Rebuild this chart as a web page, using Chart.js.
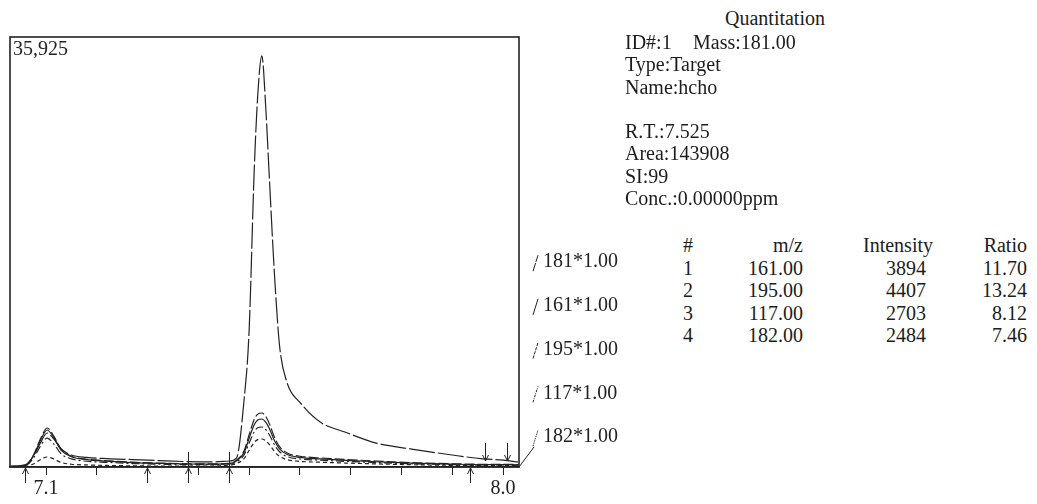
<!DOCTYPE html>
<html>
<head>
<meta charset="utf-8">
<title>Quantitation - hcho</title>
<script src="https://cdn.jsdelivr.net/npm/chart.js@4.4.1/dist/chart.umd.min.js"></script>
<style>
    html, body {margin: 0; padding: 0; background: #fff;}
    #page {position: relative; width: 1037px; height: 504px; overflow: hidden;
        font-family: 'Liberation Serif', 'Times New Roman', serif; color: #1c1c1c;}
    #chartBox {position: absolute; left: 0; top: 0; width: 640px; height: 504px;}
    .txt {position: absolute; font-size: 20px; line-height: 22.3px; white-space: pre;}
    .col {position: absolute; font-size: 20px; line-height: 22.5px; white-space: pre;}
</style>
</head>
<body>
<div id="page">
    <div id="chartBox"><canvas id="appChart" width="640" height="504"></canvas></div>
    <div class="txt" style="left:725px; top:7px;">Quantitation</div>
    <div class="txt" id="info" style="left:625px; top:31px;"></div>
    <div class="col" id="colNo" style="left:683px; top:234px;"></div>
    <div class="col" id="colMz" style="right:234px; top:234px; text-align:right;"></div>
    <div class="col" id="colInt" style="right:104px; top:234px; text-align:right;"></div>
    <div class="col" id="colRatio" style="right:10px; top:234px; text-align:right;"></div>
</div>
<script>
// MODULE'S VARS
const INK = '#222';
const FONT = '"Liberation Serif", "Times New Roman", serif';

// retention time axis, min
const X_MIN = 7.029;
const X_MAX = 8.0315;
const Y_MAX = 35925;
const LABELED_TICKS = [7.1, 8.0];

// sampled retention times, min
const times = [7.03, 7.06, 7.075, 7.09, 7.102, 7.115, 7.13, 7.15, 7.18, 7.22, 7.27, 7.32,
    7.38, 7.43, 7.46, 7.475, 7.49, 7.50, 7.51, 7.517, 7.525, 7.533, 7.54, 7.55, 7.56,
    7.575, 7.60, 7.64, 7.69, 7.75, 7.82, 7.90, 7.96, 8.0, 8.03];

// ion traces (intensity)
const ion181 = [80, 200, 900, 2100, 2840, 2350, 1500, 1000, 800, 700, 620, 540,
    450, 420, 500, 750, 5600, 11450, 24800, 31100, 34340, 29800, 24000, 16000, 10100,
    7000, 5400, 3750, 2900, 2000, 1500, 1000, 680, 580, 420];
const ion161 = [0, 150, 930, 2320, 3090, 2470, 1390, 860, 620, 490, 370, 310,
    250, 240, 280, 500, 1200, 2400, 3530, 3930, 4010, 3730, 3200, 2200, 1520,
    1040, 800, 680, 560, 440, 320, 240, 200, 200, 170];
const ion195 = [0, 160, 980, 2440, 3260, 2600, 1470, 900, 650, 520, 400, 330,
    270, 260, 300, 560, 1350, 2700, 3970, 4420, 4510, 4200, 3600, 2480, 1700,
    1170, 900, 760, 630, 500, 360, 270, 230, 230, 200];
const ion117 = [0, 120, 730, 1820, 2420, 1940, 1090, 680, 480, 390, 290, 240,
    200, 200, 230, 420, 1000, 2000, 2940, 3280, 3340, 3110, 2670, 1840, 1270,
    870, 670, 570, 470, 370, 270, 200, 170, 170, 140];
const ion182 = [0, 40, 250, 630, 835, 670, 380, 230, 170, 130, 100, 80,
    70, 70, 160, 290, 700, 1400, 2060, 2290, 2340, 2180, 1870, 1290, 890,
    610, 470, 400, 330, 260, 190, 140, 120, 120, 100];

const ionNames = ['181', '161', '195', '117', '182'];
const ionFactors = ['1.00', '1.00', '1.00', '1.00', '1.00'];
const ionSeries = [ion181, ion161, ion195, ion117, ion182];
const ionDashes = [[26, 3], [], [10, 3], [8, 3, 2, 3], [4, 3]];

// integration marks, min
const marksUp = [7.0586, 7.2989, 7.935];
const marksCross = [7.3796, 7.4604];
const marksDown = [7.9645, 8.0078];

// quantitation info
const infoLines = ['ID#:1', 'Type:Target', 'Name:hcho', '', 'R.T.:7.525', 'Area:143908',
    'SI:99', 'Conc.:0.00000ppm'];
const infoMass = 'Mass:181.00';
const refNo = ['1', '2', '3', '4'];
const refMz = ['161.00', '195.00', '117.00', '182.00'];
const refIntensity = [3894, 4407, 2703, 2484];
const refRatio = ['11.70', '13.24', '8.12', '7.46'];

// MODULE'S FUNCTIONS
function fillPanel() {
    const info = document.getElementById('info');
    info.innerHTML = infoLines.map((l, i) => (i === 0)
        ? `<span style="display:inline-block;width:68px">${l}</span>${infoMass}`
        : (l || '&nbsp;')).join('<br>');
    document.getElementById('colNo').innerHTML = ['#'].concat(refNo).join('<br>');
    document.getElementById('colMz').innerHTML = ['m/z'].concat(refMz).join('<br>');
    document.getElementById('colInt').innerHTML = ['Intensity']
        .concat(refIntensity.map(v => `<span style="padding-right:7px">${v}</span>`)).join('<br>');
    document.getElementById('colRatio').innerHTML = ['Ratio'].concat(refRatio).join('<br>');
}

/**
 * Frame, top value, integration marks and ion labels.
 */
const decorPlugin = {
    id: 'quantDecor',
    afterDraw(chart) {
        const {ctx, chartArea: a, scales: {x, y}} = chart;
        const base = y.getPixelForValue(0);
        ctx.save();
        ctx.strokeStyle = INK;
        ctx.fillStyle = INK;
        // frame
        ctx.lineWidth = 1.6;
        ctx.strokeRect(a.left, a.top, a.right - a.left, a.bottom - a.top);
        // full scale value
        ctx.font = `20px ${FONT}`;
        ctx.textAlign = 'left';
        ctx.textBaseline = 'top';
        ctx.fillText(Y_MAX.toLocaleString('en-US'), a.left + 3, a.top + 3);
        // integration marks
        ctx.lineWidth = 1;
        const head = (px, py, dir) => {
            ctx.moveTo(px - 3, py + 6 * dir);
            ctx.lineTo(px, py);
            ctx.lineTo(px + 3, py + 6 * dir);
        };
        ctx.beginPath();
        for (const t of marksUp) {
            const px = Math.round(x.getPixelForValue(t)) + 0.5;
            ctx.moveTo(px, base + 16);
            ctx.lineTo(px, base + 1);
            head(px, base + 1, 1);
        }
        for (const t of marksCross) {
            const px = Math.round(x.getPixelForValue(t)) + 0.5;
            ctx.moveTo(px, base - 15);
            ctx.lineTo(px, base + 16);
            head(px, base + 1, 1);
        }
        for (const t of marksDown) {
            const px = Math.round(x.getPixelForValue(t)) + 0.5;
            ctx.moveTo(px, base - 24);
            ctx.lineTo(px, base - 6);
            head(px, base - 6, -1);
        }
        // corner connector
        ctx.moveTo(a.right, base);
        ctx.lineTo(a.right + 15, base - 20);
        ctx.stroke();
        // ion labels with line samples
        const n = ionNames.length;
        ionNames.forEach((name, i) => {
            const ly = base - 30 - (n - 1 - i) * 43.7;
            ctx.beginPath();
            ctx.setLineDash(ionDashes[i].map(v => v / 3));
            ctx.moveTo(a.right + 14, ly + 9);
            ctx.lineTo(a.right + 19, ly - 7);
            ctx.stroke();
            ctx.setLineDash([]);
            ctx.textBaseline = 'middle';
            ctx.fillText(`${name}*${ionFactors[i]}`, a.right + 24, ly);
        });
        ctx.restore();
    }
};

function draw() {
    const datasets = ionSeries.map((series, i) => ({
        label: ionNames[i],
        data: times.map((t, k) => ({x: t, y: series[k]})),
        borderColor: INK,
        borderWidth: 1.2,
        borderDash: ionDashes[i],
        pointRadius: 0,
        fill: false,
        cubicInterpolationMode: 'monotone',
    }));
    const options = {
        responsive: false,
        animation: false,
        devicePixelRatio: 1,
        layout: {padding: {left: 10, top: 37, right: 121, bottom: 0}},
        plugins: {legend: {display: false}, tooltip: {enabled: false}},
        scales: {
            x: {
                type: 'linear',
                min: X_MIN,
                max: X_MAX,
                afterFit(scale) { scale.height = 37; },
                border: {display: true, color: INK, width: 1.6},
                grid: {drawOnChartArea: false, drawTicks: true, tickLength: 8, color: INK},
                ticks: {
                    stepSize: 0.1,
                    includeBounds: false,
                    autoSkip: false,
                    maxRotation: 0,
                    padding: 2,
                    color: INK,
                    font: {family: FONT, size: 20},
                    callback: (v) => LABELED_TICKS.includes(Math.round(v * 10) / 10) ? v.toFixed(1) : '',
                },
            },
            y: {display: false, min: 0, max: Y_MAX},
        },
    };
    const ctx = document.getElementById('appChart').getContext('2d');
    new Chart(ctx, {type: 'line', data: {datasets}, options, plugins: [decorPlugin]});
}

// MAIN
fillPanel();
draw();
</script>
</body>
</html>
